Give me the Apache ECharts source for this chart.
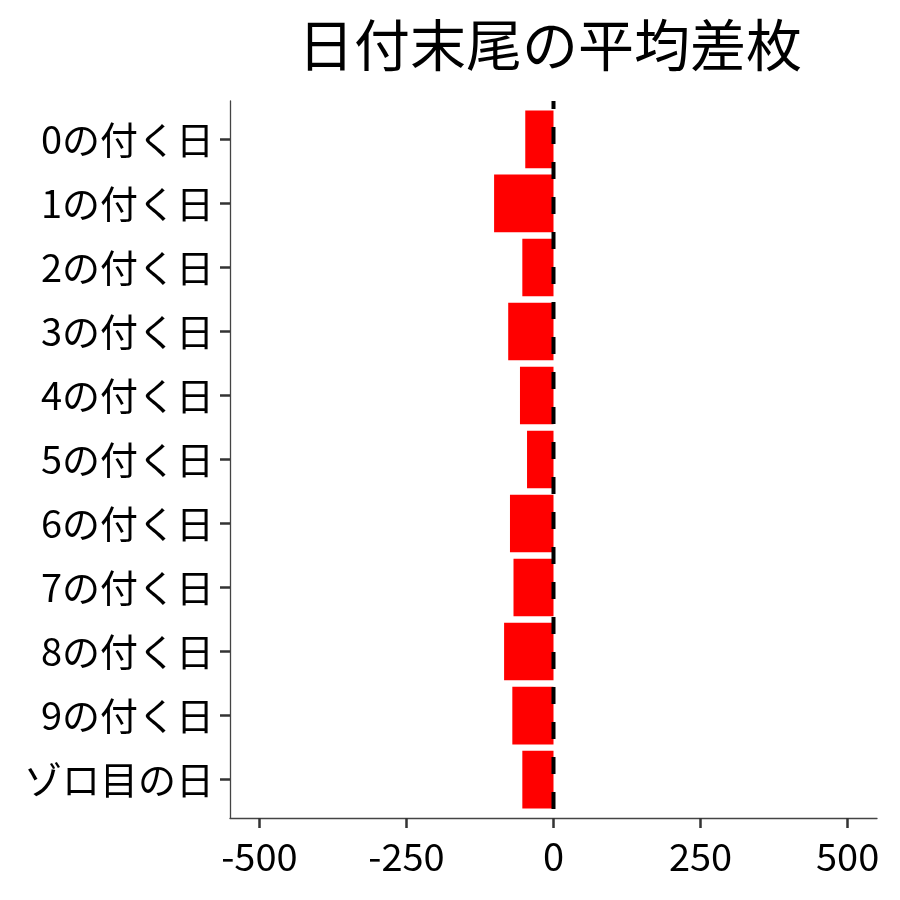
<!DOCTYPE html>
<html>
<head>
<meta charset="utf-8">
<script src="https://cdn.jsdelivr.net/npm/echarts@6/dist/echarts.min.js"></script>
<style>
html, body { margin: 0; padding: 0; background: #fff; }
#chart { width: 900px; height: 900px; }
</style>
</head>
<body>
<div id="chart"></div>
<script>
// 日付末尾ごとの平均差枚（読み取り値）
var categories = ['0の付く日', '1の付く日', '2の付く日', '3の付く日', '4の付く日',
    '5の付く日', '6の付く日', '7の付く日', '8の付く日', '9の付く日', 'ゾロ目の日'];
var avgDiff = [-48, -101, -53, -77, -57, -45, -74, -68, -84, -70, -53];
var refLine = [[0, 1], [0, 0]];   // x = 0 の破線

var chart = echarts.init(document.getElementById('chart'));
var font = '"Noto Sans CJK JP", "Noto Sans", sans-serif';

// パネル: 左230 右23 上101 下82、x範囲 -550..550、カテゴリ両端 0.6 の余白
var panelW = 900 - 230 - 23;
var inset = 50 / 1100 * panelW;          // -500/500 の目盛り用グリッド
var bandPad = 0.1 * (900 - 101 - 82) / 11.2;
var hiddenLine = { show: true, onZero: false, lineStyle: { color: '#fff', opacity: 0, width: 1 } };

var option = {
    animation: false,
    title: {
        text: '日付末尾の平均差枚',
        left: 545,
        textAlign: 'center',
        top: 12,
        textStyle: {
            fontFamily: font,
            fontSize: 56,
            fontWeight: 'normal',
            color: '#000'
        }
    },
    grid: [
        // 枠（軸線と破線）
        { left: 230, right: 23, top: 101, bottom: 82 },
        // 棒
        { left: 230, right: 23, top: 101 + bandPad, bottom: 82 + bandPad },
        // x目盛り
        { left: 230 + inset, right: 23 + inset, top: 101, bottom: 82 }
    ],
    xAxis: [
        {
            gridIndex: 0, type: 'value', min: -550, max: 550,
            splitLine: { show: false },
            axisLine: { show: true, onZero: false, lineStyle: { color: '#444', width: 1.3 } },
            axisTick: { show: false },
            axisLabel: { show: false }
        },
        {
            gridIndex: 1, type: 'value', min: -550, max: 550, show: false,
            splitLine: { show: false }
        },
        {
            gridIndex: 2, type: 'value', min: -500, max: 500, interval: 250,
            position: 'bottom',
            splitLine: { show: false },
            axisLine: hiddenLine,
            axisTick: { show: true, inside: false, length: 10, lineStyle: { color: '#333', width: 2.5 } },
            axisLabel: {
                margin: 20,
                fontFamily: font,
                fontSize: 38,
                color: '#000'
            }
        }
    ],
    yAxis: [
        {
            gridIndex: 0, type: 'value', min: 0, max: 1,
            splitLine: { show: false },
            axisLine: { show: true, onZero: false, lineStyle: { color: '#444', width: 1.3 } },
            axisTick: { show: false },
            axisLabel: { show: false }
        },
        {
            gridIndex: 1,
            type: 'category',
            data: categories,
            inverse: true,
            position: 'left',
            axisLine: hiddenLine,
            axisTick: {
                show: true,
                inside: false,
                alignWithLabel: true,
                length: 10,
                lineStyle: { color: '#333', width: 2.5 }
            },
            axisLabel: {
                margin: 16,
                fontFamily: font,
                fontSize: 38,
                color: '#000'
            }
        },
        {
            gridIndex: 2, type: 'value', min: 0, max: 1, show: false,
            splitLine: { show: false }
        }
    ],
    series: [
        {
            type: 'bar',
            xAxisIndex: 1,
            yAxisIndex: 1,
            data: avgDiff,
            barCategoryGap: '10%',
            itemStyle: { color: '#ff0000' }
        },
        {
            type: 'line',
            xAxisIndex: 0,
            yAxisIndex: 0,
            data: refLine,
            symbol: 'none',
            silent: true,
            z: 5,
            lineStyle: { color: '#000', width: 4, type: [17, 18], dashOffset: 9 }
        }
    ]
};
chart.setOption(option);
</script>
</body>
</html>
